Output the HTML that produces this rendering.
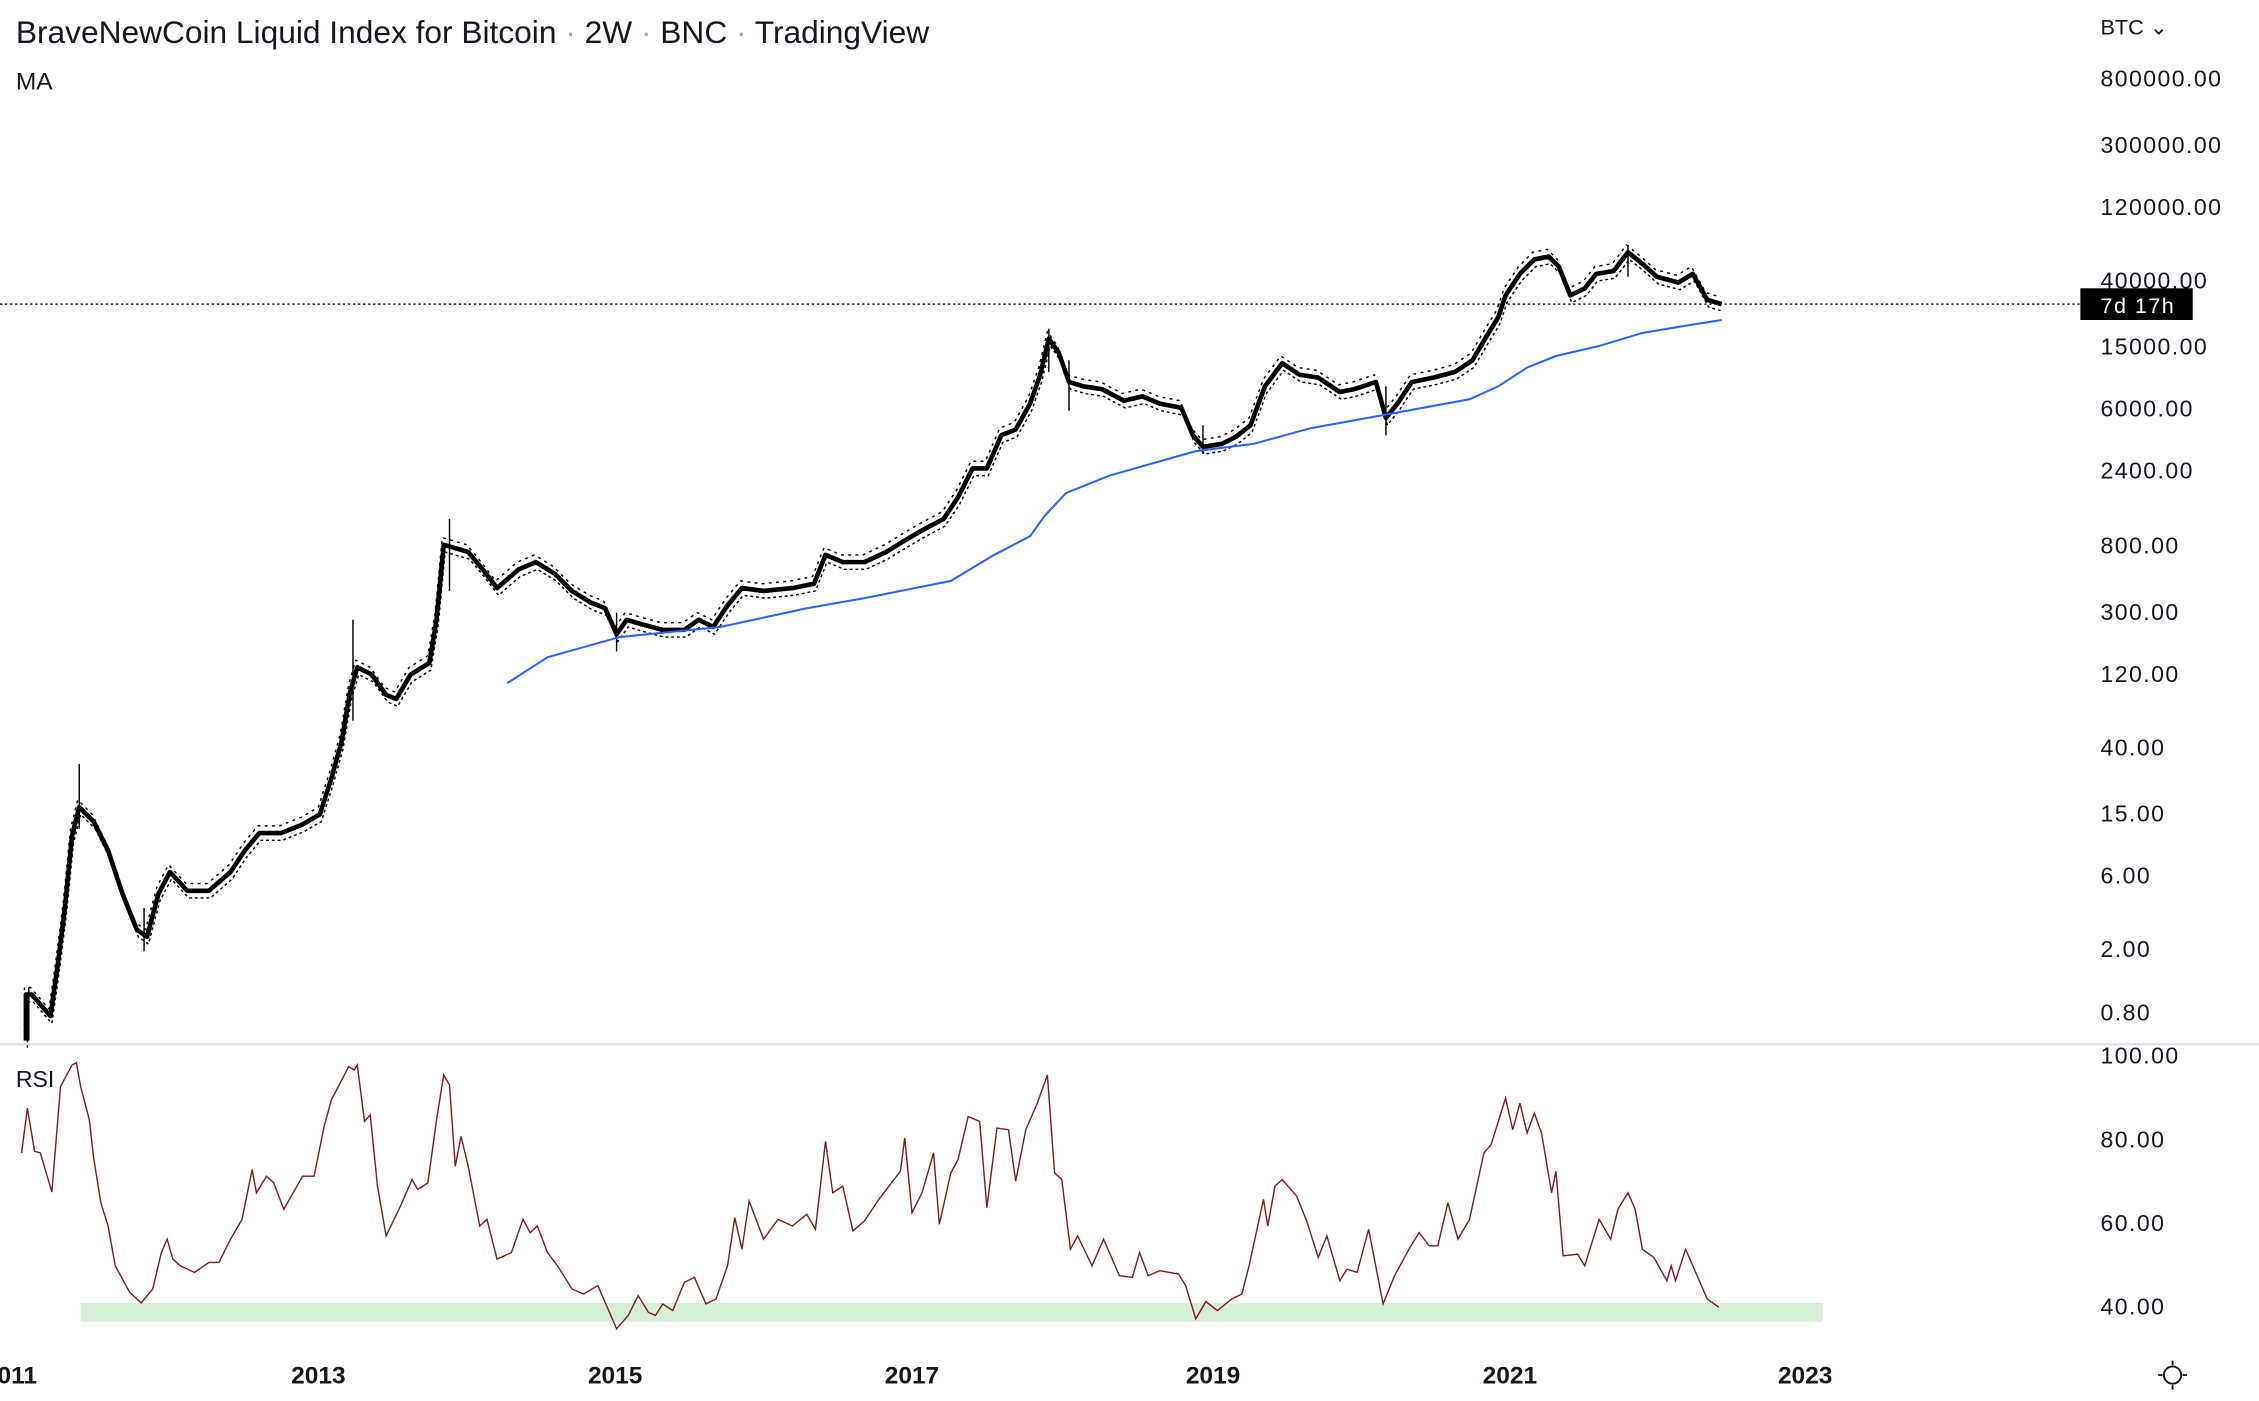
<!DOCTYPE html>
<html><head><meta charset="utf-8"><style>
html,body{margin:0;padding:0;background:#fff;}
svg{display:block;}
text{font-family:"Liberation Sans",sans-serif;fill:#131722;}
</style></head><body>
<svg width="2259" height="1401" viewBox="0 0 1568 972" preserveAspectRatio="none" xmlns="http://www.w3.org/2000/svg">
<defs>
<polyline id="pr" fill="none" stroke-linejoin="round" points="18,722 18,690 22,690 35,705 40,670 45,630 50,580 55,560 65,570 75,590 85,620 95,645 102,650 110,620 118,605 130,618 145,618 160,605 170,590 180,578 195,578 210,572 222,565 230,540 237,515 243,480 248,463 258,468 268,482 275,485 285,468 298,460 303,430 308,378 315,380 325,383 335,395 345,408 360,395 372,390 385,398 397,410 410,418 420,422 428,440 435,430 445,433 460,437 475,437 485,430 495,435 505,420 515,408 530,410 550,408 565,405 573,385 585,390 600,390 615,383 628,375 640,368 655,360 665,345 675,325 685,325 695,302 705,298 715,280 722,260 728,235 735,245 742,265 752,268 765,270 780,278 793,275 805,280 820,283 828,302 835,310 848,308 858,303 868,295 878,268 890,252 902,260 915,262 930,272 940,270 955,265 962,290 970,280 980,265 995,262 1010,258 1022,250 1032,233 1040,220 1045,205 1055,190 1065,180 1075,178 1082,185 1090,205 1100,200 1108,190 1120,188 1130,175 1140,183 1150,192 1165,196 1175,190 1185,208 1195,211"/>
</defs>
<rect width="1568" height="972" fill="#fff"/>
<text x="11" y="30" font-size="22">BraveNewCoin Liquid Index for Bitcoin <tspan fill="#aaa">·</tspan> 2W <tspan fill="#aaa">·</tspan> BNC <tspan fill="#aaa">·</tspan> TradingView</text>
<text x="11" y="62" font-size="17">MA</text>
<text x="1458" y="24" font-size="15">BTC ⌄</text>
<g font-size="16" letter-spacing="1">
<text x="1458" y="60">800000.00</text>
<text x="1458" y="106">300000.00</text>
<text x="1458" y="149">120000.00</text>
<text x="1458" y="200">40000.00</text>
<text x="1458" y="246">15000.00</text>
<text x="1458" y="289">6000.00</text>
<text x="1458" y="332">2400.00</text>
<text x="1458" y="384">800.00</text>
<text x="1458" y="430">300.00</text>
<text x="1458" y="473">120.00</text>
<text x="1458" y="524">40.00</text>
<text x="1458" y="570">15.00</text>
<text x="1458" y="613">6.00</text>
<text x="1458" y="664">2.00</text>
<text x="1458" y="708">0.80</text>
<text x="1458" y="738">100.00</text>
<text x="1458" y="796">80.00</text>
<text x="1458" y="854">60.00</text>
<text x="1458" y="912">40.00</text>
</g>
<line x1="0" y1="211" x2="1444" y2="211" stroke="#131722" stroke-width="1" stroke-dasharray="1.5,2"/>
<rect x="1444" y="200" width="78" height="22" fill="#000"/>
<text x="1458" y="217" font-size="15" style="fill:#fff" letter-spacing="1">7d 17h</text>
<line x1="0" y1="724.5" x2="1568" y2="724.5" stroke="#e0e3eb" stroke-width="1.5"/>
<rect x="56" y="904" width="1209" height="13" fill="#d5eed6"/>
<text x="11" y="754" font-size="16">RSI</text>
<g font-size="17" font-weight="bold" text-anchor="middle">
<text x="12" y="960">011</text>
<text x="221" y="960">2013</text>
<text x="427" y="960">2015</text>
<text x="633" y="960">2017</text>
<text x="842" y="960">2019</text>
<text x="1048" y="960">2021</text>
<text x="1253" y="960">2023</text>
</g>
<g stroke="#131722" stroke-width="1.3" fill="none">
<circle cx="1508" cy="954" r="6"/>
<line x1="1508" y1="944" x2="1508" y2="947"/><line x1="1508" y1="961" x2="1508" y2="964"/>
<line x1="1498" y1="954" x2="1501" y2="954"/><line x1="1515" y1="954" x2="1518" y2="954"/>
</g>
<use href="#pr" stroke="#000" stroke-width="3.2"/>
<use href="#pr" stroke="#000" stroke-width="1" stroke-dasharray="2,2" transform="translate(1,5)"/>
<use href="#pr" stroke="#000" stroke-width="1" stroke-dasharray="2,3" transform="translate(-1,-5)"/>
<g stroke="#000" stroke-width="1">
<line x1="55" y1="530" x2="55" y2="575"/><line x1="245" y1="430" x2="245" y2="500"/><line x1="312" y1="360" x2="312" y2="410"/>
<line x1="428" y1="425" x2="428" y2="452"/><line x1="728" y1="228" x2="728" y2="258"/><line x1="742" y1="250" x2="742" y2="285"/>
<line x1="962" y1="268" x2="962" y2="302"/><line x1="835" y1="295" x2="835" y2="315"/><line x1="1130" y1="170" x2="1130" y2="192"/>
<line x1="100" y1="630" x2="100" y2="660"/><line x1="20" y1="685" x2="20" y2="722"/>
</g>
<polyline fill="none" stroke="#2962ff" stroke-width="1.4" points="352,474 380,456 430,442 500,435 560,422 600,415 660,403 690,385 715,372 725,358 740,342 770,330 830,313 870,308 910,297 960,288 1020,277 1040,268 1060,255 1080,247 1110,240 1140,231 1170,226 1195,222"/>
<g transform="translate(0,707.83) scale(1,0.2302)">
<polyline fill="none" stroke="#801922" stroke-width="1.4" vector-effect="non-scaling-stroke" points="15,400 19,265 24,395 28,400 36,518 42,200 50,135 53,128 56,200 62,300 65,415 70,550 75,620 80,740 90,820 98,852 106,810 112,700 116,660 120,720 125,740 135,760 145,730 152,730 160,660 168,600 175,450 178,520 185,470 190,490 197,570 210,470 218,470 225,320 230,240 242,140 246,150 248,135 253,305 257,285 262,500 268,650 278,560 286,480 290,510 297,490 303,300 308,165 312,195 316,440 320,350 325,440 333,620 338,600 345,720 355,700 363,600 368,640 373,620 380,700 387,740 397,810 405,825 415,800 422,870 428,930 436,890 443,830 450,880 455,890 460,855 467,875 475,790 482,775 490,855 497,840 505,740 510,595 515,690 520,545 530,660 540,600 550,620 560,585 566,630 573,365 578,520 585,500 592,635 600,605 610,540 625,455 628,355 633,580 640,520 648,400 652,615 660,460 665,420 672,290 680,305 685,565 692,325 700,330 705,485 712,330 720,250 727,165 732,460 737,480 743,690 748,650 758,740 766,660 777,770 786,775 791,700 797,770 805,755 818,765 823,800 830,900 837,848 845,875 855,840 862,825 867,740 877,540 880,620 885,500 890,480 900,530 907,605 915,715 921,650 930,785 935,750 942,760 950,630 960,855 968,770 978,690 985,640 992,680 998,680 1005,550 1012,660 1020,600 1030,400 1035,375 1045,235 1050,330 1055,250 1060,340 1065,280 1070,340 1077,520 1080,455 1085,710 1095,705 1100,740 1110,600 1118,660 1123,570 1130,520 1135,570 1140,690 1148,715 1157,785 1160,740 1163,785 1170,690 1177,760 1185,840 1193,865"/>
</g>
</svg>
</body></html>
